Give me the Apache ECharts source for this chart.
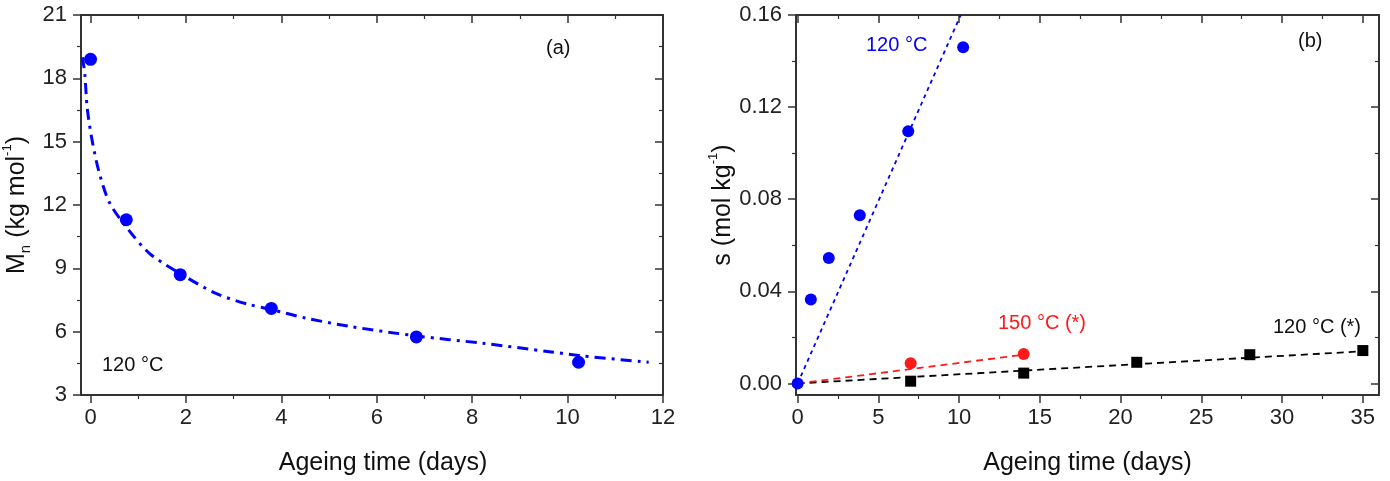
<!DOCTYPE html>
<html><head><meta charset="utf-8">
<script src="https://cdn.jsdelivr.net/npm/echarts@6/dist/echarts.min.js"></script>
<style>html,body{margin:0;padding:0;background:#fff}#c{width:1390px;height:481px}</style>
</head><body><div id="c"></div>
<script>
// ---------- Panel (a): Mn vs ageing time ----------
const mnTime = [0, 0.75, 1.88, 3.79, 6.83, 10.23];
const mnValue = [18.9, 11.3, 8.7, 7.1, 5.75, 4.55];
const mnFitTime = [-0.17, -0.12, -0.07, 0.03, 0.18, 0.4, 0.77, 1.24, 1.88, 2.64, 3.27, 3.79, 4.5, 5.43, 6.83, 8.22, 9.62, 10.32, 11.7];
const mnFitValue = [19.0, 18.2, 16.6, 15.1, 13.55, 12.1, 10.9, 9.7, 8.75, 7.8, 7.32, 7.05, 6.65, 6.25, 5.8, 5.45, 5.05, 4.85, 4.55];
const aXTicks = [0, 2, 4, 6, 8, 10, 12];
const aXMinor = [1, 3, 5, 7, 9, 11];
const aYTicks = [3, 6, 9, 12, 15, 18, 21];
const aYMinor = [4.5, 7.5, 10.5, 13.5, 16.5, 19.5];

// ---------- Panel (b): s vs ageing time ----------
const s120Time = [0, 0.82, 1.93, 3.85, 6.85, 10.25];
const s120Value = [0, 0.0365, 0.0545, 0.073, 0.1095, 0.146];
const s120FitTime = [0, 10.1];
const s120FitValue = [0, 0.16];
const s150Time = [7, 14];
const s150Value = [0.0088, 0.0128];
const s150FitTime = [0, 14];
const s150FitValue = [0, 0.0125];
const s120sTime = [7, 14, 21, 28, 35];
const s120sValue = [0.001, 0.0045, 0.0092, 0.0125, 0.0143];
const s120sFitTime = [0, 35.3];
const s120sFitValue = [0, 0.0141];
const bXTicks = [0, 5, 10, 15, 20, 25, 30, 35];
const bXMinor = [2.5, 7.5, 12.5, 17.5, 22.5, 27.5, 32.5];
const bYTicks = [0, 0.04, 0.08, 0.12, 0.16];
const bYMinor = [0.02, 0.06, 0.10, 0.14];

const FONT = 'Liberation Sans, Arial, sans-serif';
const AX = '#333';
const BLUE = '#0000ff', RED = '#ff1a1a', BLACK = '#000';

const zip = (xs, ys) => xs.map((x, i) => [x, ys[i]]);

function axisSet(kind, grid, min, max, majors, minors, mainPos, mirrorPos, labelFmt, nameCfg) {
  const base = { type: 'value', gridIndex: grid, min: min, max: max, splitLine: { show: false } };
  const line = { show: true, onZero: false, lineStyle: { color: AX, width: 2 } };
  const noLine = { show: false, onZero: false };
  const main = Object.assign({}, base, {
    position: mainPos,
    axisLine: line,
    axisTick: { show: true, customValues: majors, length: 8, lineStyle: { color: AX, width: 1.5 } },
    axisLabel: { show: true, customValues: majors, margin: kind === 'x' ? 12 : 14, fontFamily: FONT, fontSize: 22, color: '#222', formatter: labelFmt }
  }, nameCfg || {});
  const mainMinor = Object.assign({}, base, {
    position: mainPos, axisLine: noLine,
    axisTick: { show: true, customValues: minors, length: 4, lineStyle: { color: AX, width: 1.2 } },
    axisLabel: { show: false }
  });
  const mirror = Object.assign({}, base, {
    position: mirrorPos, axisLine: line,
    axisTick: { show: true, inside: true, customValues: majors, length: 8, lineStyle: { color: AX, width: 1.5 } },
    axisLabel: { show: false }
  });
  const mirrorMinor = Object.assign({}, base, {
    position: mirrorPos, axisLine: noLine,
    axisTick: { show: true, inside: true, customValues: minors, length: 4, lineStyle: { color: AX, width: 1.2 } },
    axisLabel: { show: false }
  });
  return [main, mainMinor, mirror, mirrorMinor];
}

const titleStyle = { fontFamily: FONT, fontSize: 25, color: '#111' };
const yRich = {
  a: { fontFamily: FONT, fontSize: 25, lineHeight: 32, color: '#111' },
  sub: { fontFamily: FONT, fontSize: 15, lineHeight: 12, verticalAlign: 'bottom', color: '#111' },
  sup: { fontFamily: FONT, fontSize: 13, lineHeight: 12, verticalAlign: 'top', color: '#111' }
};

const xAxes = [].concat(
  axisSet('x', 0, -0.2, 12, aXTicks, aXMinor, 'bottom', 'top', v => String(v),
    { name: 'Ageing time (days)', nameLocation: 'middle', nameGap: 56, nameTextStyle: Object.assign({ padding: [0, 0, 0, 22] }, titleStyle) }),
  axisSet('x', 1, -0.1, 36, bXTicks, bXMinor, 'bottom', 'top', v => String(v),
    { name: 'Ageing time (days)', nameLocation: 'middle', nameGap: 56, nameTextStyle: titleStyle })
);
const yAxes = [].concat(
  axisSet('y', 0, 3, 21, aYTicks, aYMinor, 'left', 'right', v => String(v),
    { name: '{a|M}{sub|n}{a| (kg mol}{sup|-1}{a|)}', nameLocation: 'middle', nameGap: 48, nameTextStyle: { rich: yRich } }),
  axisSet('y', 1, -0.005, 0.16, bYTicks, bYMinor, 'left', 'right', v => v.toFixed(2),
    { name: '{a|s (mol kg}{sup|-1}{a|)}', nameLocation: 'middle', nameGap: 44, nameTextStyle: { rich: yRich } })
);

const chart = echarts.init(document.getElementById('c'), null, { renderer: 'canvas' });
chart.setOption({
  backgroundColor: '#fff',
  animation: false,
  grid: [
    { left: 81, top: 15, width: 582, height: 380 },
    { left: 796, top: 15, width: 583, height: 381 }
  ],
  xAxis: xAxes,
  yAxis: yAxes,
  series: [
    { type: 'line', xAxisIndex: 0, yAxisIndex: 0, data: zip(mnFitTime, mnFitValue), smooth: 0.3, showSymbol: false,
      lineStyle: { color: BLUE, width: 3, type: [11, 6, 3, 6] }, z: 2 },
    { type: 'scatter', xAxisIndex: 0, yAxisIndex: 0, data: zip(mnTime, mnValue), symbol: 'circle', symbolSize: 13,
      itemStyle: { color: BLUE, opacity: 1 }, z: 3 },

    { type: 'line', xAxisIndex: 4, yAxisIndex: 4, data: zip(s120sFitTime, s120sFitValue), showSymbol: false,
      lineStyle: { color: BLACK, width: 1.8, type: [7, 5] }, z: 2 },
    { type: 'line', xAxisIndex: 4, yAxisIndex: 4, data: zip(s150FitTime, s150FitValue), showSymbol: false,
      lineStyle: { color: RED, width: 1.8, type: [7, 5] }, z: 2 },
    { type: 'line', xAxisIndex: 4, yAxisIndex: 4, data: zip(s120FitTime, s120FitValue), showSymbol: false,
      lineStyle: { color: BLUE, width: 1.8, type: [4, 4] }, z: 2 },
    { type: 'scatter', xAxisIndex: 4, yAxisIndex: 4, data: zip(s120sTime, s120sValue), symbol: 'rect', symbolSize: 11,
      itemStyle: { color: BLACK, opacity: 1 }, z: 3 },
    { type: 'scatter', xAxisIndex: 4, yAxisIndex: 4, data: zip(s150Time, s150Value), symbol: 'circle', symbolSize: 12,
      itemStyle: { color: RED, opacity: 1 }, z: 3 },
    { type: 'scatter', xAxisIndex: 4, yAxisIndex: 4, data: zip(s120Time, s120Value), symbol: 'circle', symbolSize: 12,
      itemStyle: { color: BLUE, opacity: 1 }, z: 4 }
  ],
  graphic: [
    { type: 'text', left: 546, top: 38, style: { text: '(a)', font: '20px ' + FONT, fill: '#111' } },
    { type: 'text', left: 102, top: 355, style: { text: '120 °C', font: '20px ' + FONT, fill: '#111' } },
    { type: 'text', left: 1298, top: 31, style: { text: '(b)', font: '20px ' + FONT, fill: '#111' } },
    { type: 'text', left: 866, top: 35, style: { text: '120 °C', font: '20px ' + FONT, fill: BLUE } },
    { type: 'text', left: 998, top: 313, style: { text: '150 °C (*)', font: '20px ' + FONT, fill: RED } },
    { type: 'text', left: 1273, top: 317, style: { text: '120 °C (*)', font: '20px ' + FONT, fill: '#111' } }
  ]
});
</script>
</body></html>
